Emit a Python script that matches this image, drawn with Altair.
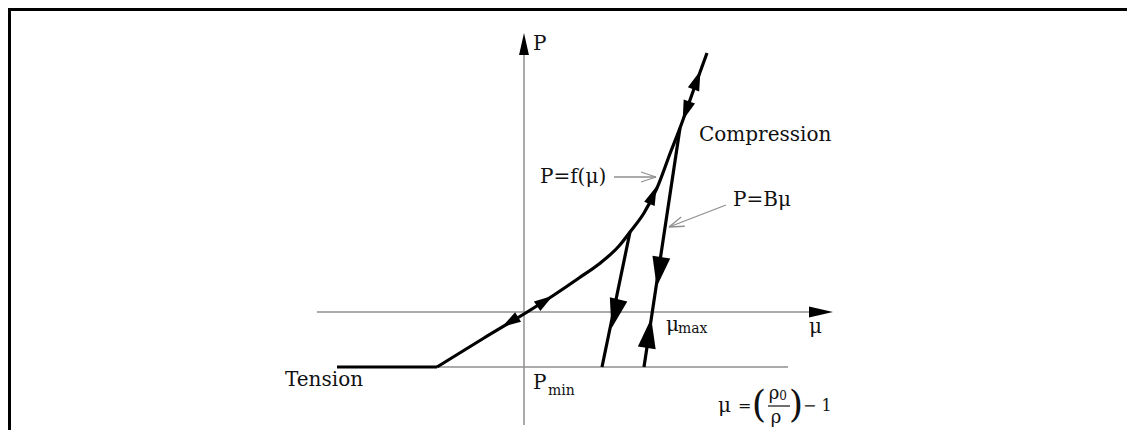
import altair as alt
import pandas as pd
import numpy as np

# ---------------- diagram data (mu, P units; origin at axis crossing) -------------
W, H = 1119, 422
X_DOM = [-516, 603]
Y_DOM = [-118, 304]

# P = f(mu) loading curve
curve_mu = [-87, -40, 0, 30, 55, 75, 95, 106, 120, 133, 147, 156, 171, 183]
curve_p = [-55, -26, -2, 17, 34, 48, 66, 80, 99, 124, 161, 184, 226, 259]
# tension cut-off (P_min plateau)
tension_mu = [-187, -87]
tension_p = [-55, -55]
# unloading lines P = B mu
unload1_mu = [106, 78]
unload1_p = [80, -55]
unload2_mu = [156, 120]
unload2_p = [184, -55]

# thin grey reference lines: (mu1, P1, mu2, P2)
grey_lines = [
    (-207, 0, 288, 0),      # mu axis
    (0, -113, 0, 258),      # P axis
    (-187, -55, 264, -55),  # P_min level
]

# filled flow arrow heads: centre (mu, P), point toward (mu, P), length px
arrow_mu = [-14, 21, 129, 173, 162, 91, 135, 125]
arrow_p = [-10, 11, 117, 232, 201, -2, 40, -21]
arrow_to_mu = [-87, 55, 147, 183, 156, 78, 120, 156]
arrow_to_p = [-55, 34, 161, 259, 184, -55, -55, 184]
arrow_len = [19, 19, 19, 20, 20, 30, 30, 30]

# axis arrow heads
axarrow_mu = [0, 297]
axarrow_p = [268, 0]
axarrow_to_mu = [0, 400]
axarrow_to_p = [400, 0]
axarrow_len = [22, 24]

# label pointers (thin grey with open head): from -> to
ptr_from_mu = [90, 202]
ptr_from_p = [135, 107]
ptr_to_mu = [132, 145]
ptr_to_p = [135, 85]

# labels
lab_text = ["P", "\u03bc", "Compression", "P=f(\u03bc)", "P=B\u03bc", "Tension",
            "P", "min", "\u03bc", "max", "\u03bc", "=", "\u2212 1"]
lab_mu = [9, 285, 175, 16, 209, -239, 9, 24, 142, 154, 194, 214, 279]
lab_p = [268, -15, 177, 135, 112, -68, -71, -79, -13, -17, -94, -94, -94]
lab_size = [20, 20, 20, 20, 20, 20, 20, 14, 20, 14, 20, 16, 16]

frac_text = ["(", ")", "\u03c1", "0", "\u03c1"]
frac_mu = [235, 272, 250, 259, 252]
frac_p = [-94, -94, -82, -84, -106]
frac_size = [37, 37, 18, 12, 18]
frac_bar_mu = [244, 266]
frac_bar_p = -94

# ---------------- build tables ----------------
xs = alt.Scale(domain=X_DOM, zero=False, nice=False)
ys = alt.Scale(domain=Y_DOM, zero=False, nice=False)

rows = []
for name, m, p in [("curve", curve_mu, curve_p), ("tension", tension_mu, tension_p),
                   ("u1", unload1_mu, unload1_p), ("u2", unload2_mu, unload2_p)]:
    for i, (a, b) in enumerate(zip(m, p)):
        rows.append({"seg": name, "o": i, "mu": a, "P": b})
thick = pd.DataFrame(rows)

grey = pd.DataFrame(grey_lines, columns=["mu", "P", "mu2", "P2"])

# outer frame (top and left edges of the figure)
frame = pd.DataFrame({
    "mu": [X_DOM[0], X_DOM[0] + 1.5],
    "P": [Y_DOM[1] - 1.5, Y_DOM[1]],
    "mu2": [X_DOM[1], X_DOM[0] + 1.5],
    "P2": [Y_DOM[1] - 1.5, Y_DOM[0]],
})


def arrow_table(mu, p, tmu, tp, ln):
    am = np.array(mu, float)
    ap = np.array(p, float)
    ang = np.degrees(np.arctan2(np.array(tmu) - am, np.array(tp) - ap)) % 360
    return pd.DataFrame({"mu": am, "P": ap, "angle": ang,
                         "size": np.array(ln, float) ** 2})


arrows = arrow_table(arrow_mu, arrow_p, arrow_to_mu, arrow_to_p, arrow_len)
axarrows = arrow_table(axarrow_mu, axarrow_p, axarrow_to_mu, axarrow_to_p, axarrow_len)

# pointer lines + open heads
prow = []
for fm, fp, tm, tp in zip(ptr_from_mu, ptr_from_p, ptr_to_mu, ptr_to_p):
    prow.append({"mu": fm, "P": fp, "mu2": tm, "P2": tp})
    u = np.array([fm - tm, fp - tp], float)
    u /= np.linalg.norm(u)
    perp = np.array([-u[1], u[0]])
    for s in (1, -1):
        w = np.array([tm, tp]) + 15 * u + s * 5 * perp
        prow.append({"mu": tm, "P": tp, "mu2": w[0], "P2": w[1]})
ptrs = pd.DataFrame(prow)

labels = pd.DataFrame({"t": lab_text, "mu": lab_mu, "P": lab_p, "s": lab_size})
frac = pd.DataFrame({"t": frac_text, "mu": frac_mu, "P": frac_p, "s": frac_size})
fbar = pd.DataFrame({"mu": [frac_bar_mu[0]], "mu2": [frac_bar_mu[1]], "P": [frac_bar_p]})

X = lambda f="mu": alt.X(f, type="quantitative", scale=xs, axis=None)
Y = lambda f="P": alt.Y(f, type="quantitative", scale=ys, axis=None)

grey_layer = alt.Chart(grey).mark_rule(color="#8f8f8f", strokeWidth=1.5).encode(
    x=X(), y=Y(), x2="mu2", y2="P2")
ptr_layer = alt.Chart(ptrs).mark_rule(color="#8f8f8f", strokeWidth=1.3).encode(
    x=X(), y=Y(), x2="mu2", y2="P2")
frame_layer = alt.Chart(frame).mark_rule(color="black", strokeWidth=3).encode(
    x=X(), y=Y(), x2="mu2", y2="P2")
thick_layer = alt.Chart(thick).mark_line(color="black", strokeWidth=3.2,
                                         interpolate="monotone").encode(
    x=X(), y=Y(), detail="seg:N", order="o:Q")
arrow_layer = alt.Chart(arrows).mark_point(
    shape="M0,-1L0.6,1L-0.6,1Z", filled=True, color="black", opacity=1,
    strokeWidth=0).encode(
    x=X(), y=Y(), angle=alt.Angle("angle:Q", scale=None),
    size=alt.Size("size:Q", scale=None))
axarrow_layer = alt.Chart(axarrows).mark_point(
    shape="M0,-1L0.45,1L-0.45,1Z", filled=True, color="black", opacity=1,
    strokeWidth=0).encode(
    x=X(), y=Y(), angle=alt.Angle("angle:Q", scale=None),
    size=alt.Size("size:Q", scale=None))
text_layer = alt.Chart(labels).mark_text(
    align="left", baseline="middle", font="DejaVu Serif", color="#111").encode(
    x=X(), y=Y(), text="t:N", size=alt.Size("s:Q", scale=None))
frac_layer = alt.Chart(frac).mark_text(
    align="center", baseline="middle", font="DejaVu Serif", color="#111",
    fontWeight=200).encode(
    x=X(), y=Y(), text="t:N", size=alt.Size("s:Q", scale=None))
fbar_layer = alt.Chart(fbar).mark_rule(color="#111", strokeWidth=1.2).encode(
    x=X(), x2="mu2", y=Y())

chart = alt.layer(
    grey_layer, ptr_layer, frame_layer, thick_layer, arrow_layer, axarrow_layer,
    text_layer, frac_layer, fbar_layer
).properties(
    width=W, height=H, padding=0, autosize=alt.AutoSizeParams(type="none"),
    background="white"
).configure_view(stroke=None)

chart.save("out.html", embed_options={"renderer": "svg", "actions": False})
